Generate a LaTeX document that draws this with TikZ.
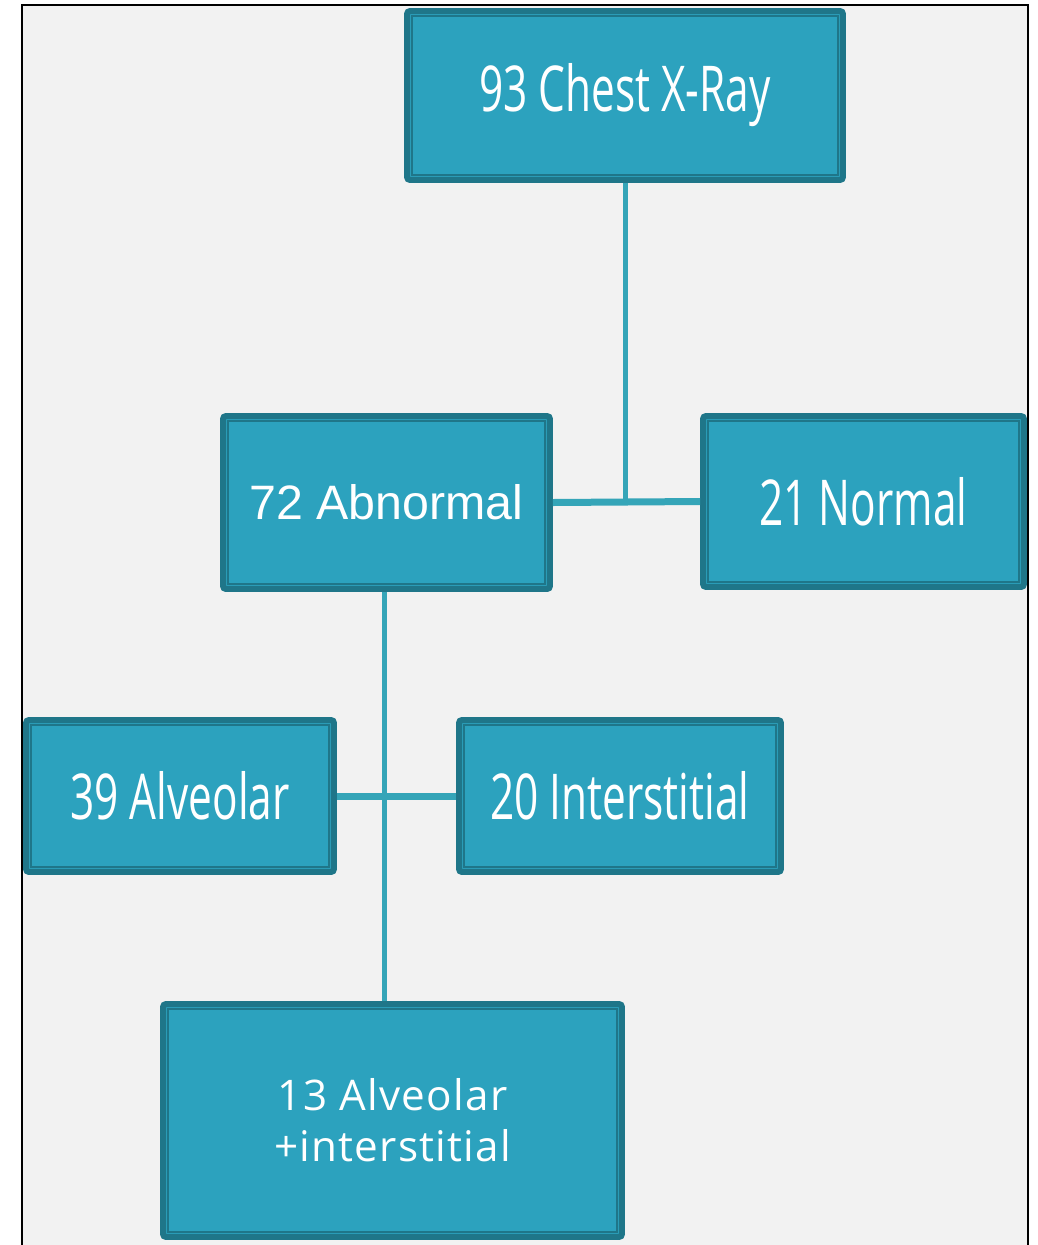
\documentclass[tikz,border=0pt]{standalone}
\usepackage{fontspec}
\setmainfont{Liberation Sans}
\newfontfamily\condfont[FakeStretch=0.67]{Open Sans}
\newfontfamily\spacedfont[LetterSpace=3]{Open Sans}
\definecolor{bgcol}{HTML}{F2F2F2}
\definecolor{boxfill}{HTML}{2CA2BE}
\definecolor{boxdark}{HTML}{1F7689}
\definecolor{linkcol}{HTML}{35A5B8}
\begin{document}
\begin{tikzpicture}[x=0.02cm,y=-0.02cm,
  box/.style={draw=boxdark, fill=boxfill, line width=0.12cm, rounded corners=0.06cm,
    inner sep=0pt, align=center, text=white,
    path picture={\draw[boxdark, line width=0.04cm, sharp corners]
      ([shift={(0.1cm,-0.1cm)}]path picture bounding box.north west) rectangle
      ([shift={(-0.1cm,0.1cm)}]path picture bounding box.south east);}},
  cond/.style={font=\condfont\fontsize{36}{40}\selectfont},
  link/.style={draw=linkcol, line width=0.1cm},
  hlink/.style={draw=linkcol, line width=0.14cm}]
\useasboundingbox (0,0) rectangle (1038,1245);
\fill[white] (0,0) rectangle (1038,1245);
\fill[bgcol] (22,5) rectangle (1028,1245);
\draw[black, line width=0.04cm] (22,1245) -- (22,5) -- (1028,5) -- (1028,1245);

\node[box, cond, minimum width=8.72cm, minimum height=3.38cm] (A) at (625,95.5) {93 Chest X-Ray};
\node[box, font=\fontsize{27.5}{30}\selectfont, minimum width=6.54cm, minimum height=3.46cm] (B) at (386.5,502.5) {72 Abnormal};
\node[box, cond, minimum width=6.42cm, minimum height=3.42cm] (C) at (863.5,501.5) {21 Normal};
\node[box, cond, minimum width=6.16cm, minimum height=3.04cm] (D) at (180,796) {39 Alveolar};
\node[box, cond, minimum width=6.44cm, minimum height=3.04cm] (E) at (620,796) {20 Interstitial};
\node[box, font=\spacedfont\fontsize{24}{29}\selectfont, minimum width=9.18cm, minimum height=4.66cm] (F) at (392.5,1120.5) {13 Alveolar\\+interstitial};

\draw[link] (A.south) -- (A.south |- C.west);
\draw[hlink] (B.east) -- (C.west);
\draw[link] ([xshift=-0.05cm]B.south) -- ([xshift=-0.05cm]B.south |- F.north);
\draw[hlink] (D.east) -- (E.west);
\end{tikzpicture}
\end{document}
